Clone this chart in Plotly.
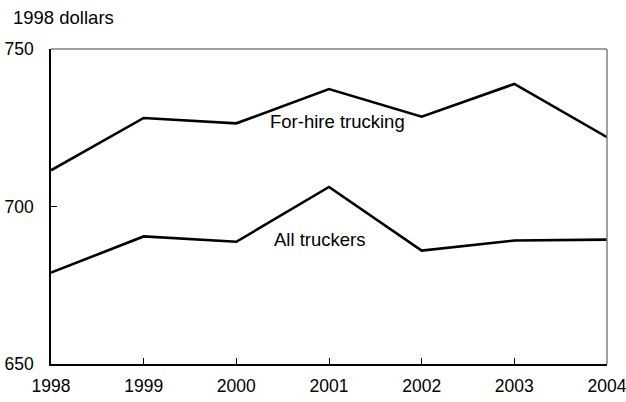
import plotly.graph_objects as go

years = [1998, 1999, 2000, 2001, 2002, 2003, 2004]
for_hire = [711.5, 728.1, 726.4, 737.3, 728.5, 738.9, 722.0]
all_truckers = [679.0, 690.5, 688.8, 706.2, 686.0, 689.2, 689.5]
y_ticks = [650, 700, 750]
series_labels = ["For-hire trucking", "All truckers"]
y_title = "1998 dollars"

FONT = dict(family="Liberation Sans, Arial, sans-serif", size=18.5, color="#000000")
TICKFONT = dict(family="Liberation Sans, Arial, sans-serif", size=17.5, color="#000000")

fig = go.Figure()
fig.add_trace(go.Scatter(x=years, y=for_hire, mode="lines",
                         line=dict(color="#000000", width=2.6), name=series_labels[0],
                         showlegend=False, hoverinfo="skip"))
fig.add_trace(go.Scatter(x=years, y=all_truckers, mode="lines",
                         line=dict(color="#000000", width=2.6), name=series_labels[1],
                         showlegend=False, hoverinfo="skip"))

fig.add_annotation(x=2001.09, y=726.9, text=series_labels[0], showarrow=False,
                   font=FONT, xanchor="center", yanchor="middle")
fig.add_annotation(x=2000.9, y=689.5, text=series_labels[1], showarrow=False,
                   font=FONT, xanchor="center", yanchor="middle")
fig.add_annotation(x=0.0, xref="paper", xanchor="left", xshift=-40,
                   y=1.0, yref="paper", yanchor="middle", yshift=32,
                   text=y_title, showarrow=False, font=FONT)

# top and right frame lines (grey)
fig.add_shape(type="line", xref="paper", yref="paper", x0=0, x1=1, y0=1, y1=1,
              line=dict(color="#808080", width=1.5))
fig.add_shape(type="line", xref="paper", yref="paper", x0=1, x1=1, y0=0, y1=1,
              line=dict(color="#808080", width=1.5))

fig.update_layout(
    width=626, height=402,
    margin=dict(l=51, r=19, t=49, b=38, pad=0),
    paper_bgcolor="white", plot_bgcolor="white",
    font=FONT,
    xaxis=dict(range=[1998, 2004], tickvals=years, ticktext=[str(y) for y in years],
               showgrid=False, zeroline=False, showline=True, linecolor="#000000",
               linewidth=1.5, ticks="inside", ticklen=6, tickcolor="#000000",
               tickwidth=1, ticklabelstandoff=5, automargin=False,
               ticklabeloverflow="allow", tickfont=TICKFONT),
    yaxis=dict(range=[650, 750], tickvals=y_ticks, showgrid=False, zeroline=False,
               showline=True, linecolor="#000000", linewidth=1.5, ticks="inside",
               ticklen=6, tickcolor="#000000", tickwidth=1, ticklabelstandoff=12,
               automargin=False, ticklabeloverflow="allow", tickfont=TICKFONT),
)

# remove the browser's default 8px body margin so the figure fills the window
fig.write_html("out.html", config={"displayModeBar": False},
               post_script="document.body.style.margin='0';document.body.style.overflow='hidden';")
